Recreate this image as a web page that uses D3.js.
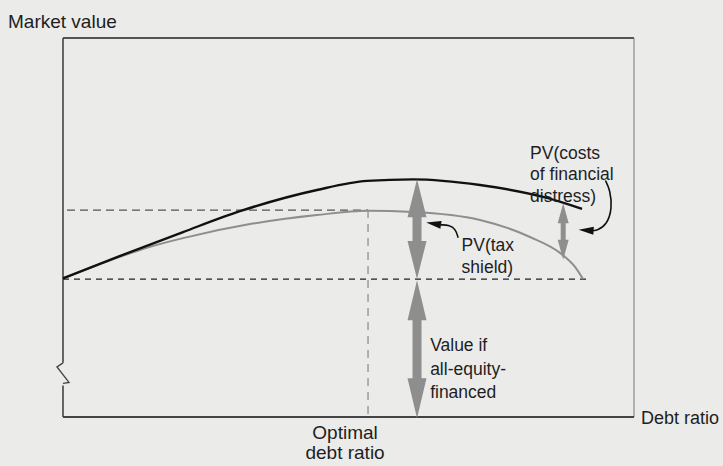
<!DOCTYPE html>
<html><head><meta charset="utf-8">
<script src="https://cdn.jsdelivr.net/npm/d3@7"></script>
<style>
html,body{margin:0;padding:0;background:#ebebea;}
svg{display:block;}
text{font-family:"Liberation Sans",Arial,Helvetica,sans-serif;fill:#1e1e1e;}
</style></head>
<body>
<svg id="c" width="723" height="466"></svg>
<script>
// ---------- data (debt ratio 0..1, market value in arbitrary units 0..100) ----------
const leveredDebt   = [0, 0.0946, 0.2102, 0.31, 0.4448, 0.5324, 0.613, 0.7303, 0.8476, 0.909];
const leveredValue  = [36.6, 42.2, 48.8, 54.3, 59.9, 62.3, 62.7, 61.2, 57.8, 54.9];   // all-equity + PV(tax shield)
const actualDebt    = [0, 0.0946, 0.1524, 0.2102, 0.3275, 0.4448, 0.5342, 0.613, 0.7303, 0.8179, 0.8704, 0.8967, 0.9107];
const actualValue   = [36.6, 42.0, 44.9, 47.2, 50.9, 53.3, 54.4, 54.1, 52.0, 47.5, 43.3, 39.6, 36.4]; // minus PV(costs of distress)
const allEquityValue = 36.4;
const baselineEnd    = 0.92;
const optimalDebt    = 0.5342;
const optimalValue   = 54.6;
const taxArrowDebt   = 0.62;
const distressArrowDebt = 0.876;
const distressTop    = 56.4;
const distressBottom = 41.5;
const axisLabels = ["Market value", "Debt ratio"];
const optimalLabel = ["Optimal", "debt ratio"];
const distressLabel = ["PV(costs", "of financial", "distress)"];
const taxLabel = ["PV(tax", "shield)"];
const equityLabel = ["Value if", "all-equity-", "financed"];

// ---------- scales ----------
const svg = d3.select("#c");
const x = d3.scaleLinear().domain([0, 1]).range([63, 634]);
const y = d3.scaleLinear().domain([0, 100]).range([417, 38]);

const gray = "#8e8e8e";

// frame
svg.append("line").attr("x1", x(0)).attr("x2", x(1)).attr("y1", y(100)).attr("y2", y(100))
  .attr("stroke", "#555").attr("stroke-width", 2);
svg.append("line").attr("x1", x(1)).attr("x2", x(1)).attr("y1", y(100)).attr("y2", y(0))
  .attr("stroke", "#777").attr("stroke-width", 1);
svg.append("line").attr("x1", x(0)).attr("x2", x(1)).attr("y1", y(0)).attr("y2", y(0))
  .attr("stroke", "#444").attr("stroke-width", 2);
// left axis with break
const bTop = y(14.3), bBot = y(8.6);
svg.append("line").attr("x1", x(0)).attr("x2", x(0)).attr("y1", y(100)).attr("y2", bTop)
  .attr("stroke", "#444").attr("stroke-width", 1.6);
svg.append("path")
  .attr("d", `M${x(0)},${bTop} L${x(0)-6},${bTop+4} L${x(0)+6},${bBot-2} L${x(0)},${bBot-1}`)
  .attr("fill", "none").attr("stroke", "#444").attr("stroke-width", 1.4);
svg.append("line").attr("x1", x(0)).attr("x2", x(0)).attr("y1", bBot + 1).attr("y2", y(0))
  .attr("stroke", "#444").attr("stroke-width", 1.6);

// dashed guides
svg.append("line").attr("x1", x(0.007)).attr("x2", x(optimalDebt)).attr("y1", y(optimalValue)).attr("y2", y(optimalValue))
  .attr("stroke", "#555").attr("stroke-width", 1.2).attr("stroke-dasharray", "8,5");
svg.append("line").attr("x1", x(optimalDebt)).attr("x2", x(optimalDebt)).attr("y1", y(optimalValue)).attr("y2", y(0))
  .attr("stroke", "#888").attr("stroke-width", 1.2).attr("stroke-dasharray", "8,6");
svg.append("line").attr("x1", x(0)).attr("x2", x(baselineEnd)).attr("y1", y(allEquityValue)).attr("y2", y(allEquityValue))
  .attr("stroke", "#222").attr("stroke-width", 1.2).attr("stroke-dasharray", "6,5");

// curves
const line = d3.line().x(d => x(d[0])).y(d => y(d[1])).curve(d3.curveMonotoneX);
svg.append("path").datum(actualDebt.map((d, i) => [d, actualValue[i]]))
  .attr("d", line).attr("fill", "none").attr("stroke", gray).attr("stroke-width", 2);
svg.append("path").datum(leveredDebt.map((d, i) => [d, leveredValue[i]]))
  .attr("d", line).attr("fill", "none").attr("stroke", "#111").attr("stroke-width", 2.4);

// double-headed arrows
function dblArrow(xv, vTop, vBot, headLen, headW, shaftW) {
  const cx = x(xv), t = y(vTop), b = y(vBot);
  const hl = Math.min(headLen, (b - t) / 2.4);
  const pts = [
    [cx, t], [cx + headW / 2, t + hl], [cx + shaftW / 2, t + hl],
    [cx + shaftW / 2, b - hl], [cx + headW / 2, b - hl], [cx, b],
    [cx - headW / 2, b - hl], [cx - shaftW / 2, b - hl],
    [cx - shaftW / 2, t + hl], [cx - headW / 2, t + hl]
  ];
  svg.append("polygon").attr("points", pts.map(p => p.join(",")).join(" ")).attr("fill", gray);
}
dblArrow(taxArrowDebt, leveredValue[6], allEquityValue, 38, 19, 9);
dblArrow(taxArrowDebt, allEquityValue - 0.3, -0.3, 40, 19, 9);
dblArrow(distressArrowDebt, distressTop, distressBottom, 20, 11, 5);

// curved pointer arrows
function pointer(pts, tip) {
  const p = pts.map(d => [x(d[0]), y(d[1])]);
  svg.append("path").attr("d", d3.line().curve(d3.curveBasis)(p))
    .attr("fill", "none").attr("stroke", "#111").attr("stroke-width", 1.6);
  const last = p[p.length - 1];
  const tp = [x(tip[0]), y(tip[1])];
  const ang = Math.atan2(tp[1] - last[1], tp[0] - last[0]);
  const L = 15, W = 4;
  const bx = tp[0] - L * Math.cos(ang), by = tp[1] - L * Math.sin(ang);
  const nx = -Math.sin(ang) * W, ny = Math.cos(ang) * W;
  svg.append("polygon").attr("points", `${tp[0]},${tp[1]} ${bx + nx},${by + ny} ${bx - nx},${by - ny}`)
    .attr("fill", "#111");
}
// PV(costs of financial distress)
pointer([[0.950, 62.4], [0.958, 60.0], [0.962, 55.0], [0.952, 50.6], [0.935, 49.2], [0.925, 49.2]], [0.903, 49.4]);
// PV(tax shield)
pointer([[0.692, 47.3], [0.688, 49.5], [0.677, 50.6], [0.662, 50.7]], [0.636, 51.3]);

// labels
function label(lines, xv, vFirst, anchor, lh, fs) {
  const t = svg.append("text").attr("x", x(xv)).attr("y", y(vFirst))
    .attr("text-anchor", anchor).attr("font-size", fs);
  lines.forEach((s, i) => t.append("tspan").attr("x", x(xv)).attr("dy", i === 0 ? 0 : lh).text(s));
}
svg.append("text").attr("x", 8).attr("y", 28).attr("font-size", 19).text(axisLabels[0]);
svg.append("text").attr("x", x(1) + 7).attr("y", y(0) + 7).attr("font-size", 18).text(axisLabels[1]);
label(optimalLabel, 0.494, -5.8, "middle", 20.5, 19);
label(distressLabel, 0.818, 68.2, "start", 21.5, 17.5);
label(taxLabel, 0.698, 43.8, "start", 22, 17.5);
label(equityLabel, 0.643, 17.4, "start", 23.5, 17.5);
</script>
</body></html>
